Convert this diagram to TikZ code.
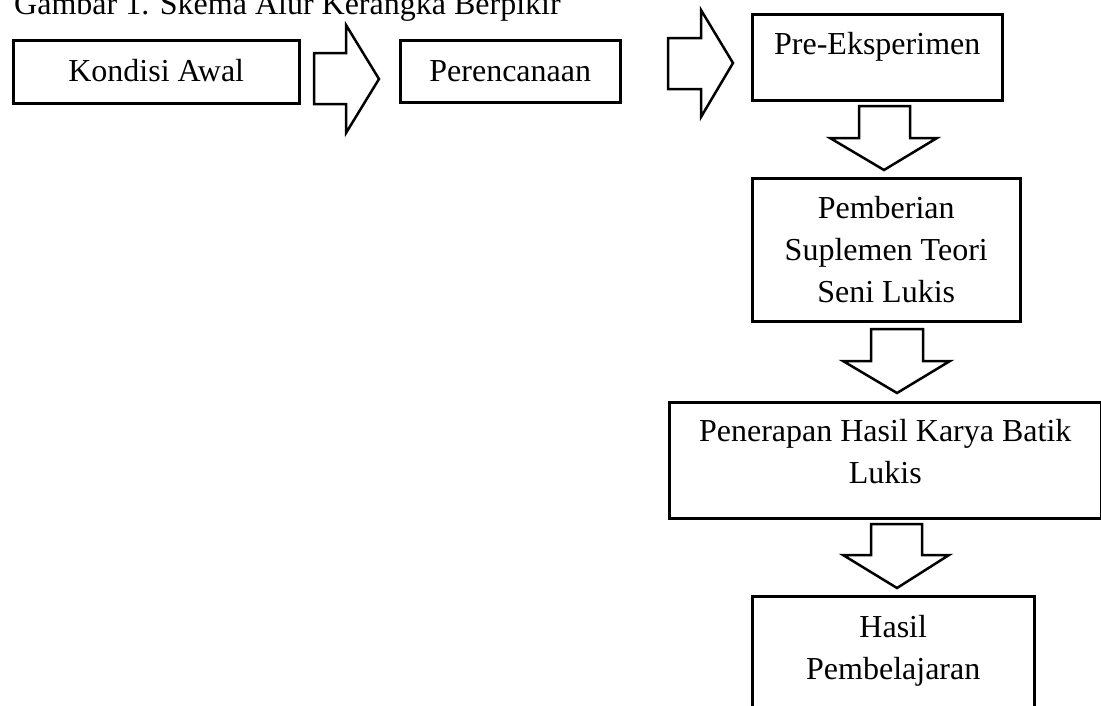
\documentclass[tikz,border=0pt]{standalone}
\usepackage{fontspec}
\setmainfont{Liberation Serif}
\begin{document}
\begin{tikzpicture}[x=1pt,y=-1pt,
  box/.style={draw, line width=2.5pt, anchor=north west, inner xsep=0pt, inner ysep=0pt,
    align=center, font=\fontsize{32}{42}\selectfont},
  blockarrow/.style={draw, line width=2.5pt, line join=miter}]
\useasboundingbox (0,0) rectangle (1101,705);
\clip (0,0) rectangle (1101,705);
\node[anchor=base west, inner sep=0pt, font=\fontsize{32}{42}\selectfont] (title) at (14,14)
  {Gambar 1. Skema Alur Kerangka Berpikir};
\node[box, minimum width=286pt, text height=41pt, text depth=22pt] (kondisi) at (12,39) {Kondisi Awal};
\node[box, minimum width=220pt, text height=41pt, text depth=21pt] (rencana) at (399,39) {Perencanaan};
\node[box, minimum width=250pt, text height=40pt, text depth=46pt] (pre) at (751,13) {Pre-Eksperimen};
\node[box, minimum width=268pt, text height=124pt, text depth=19pt] (pemberian) at (751,177)
  {Pemberian\\Suplemen Teori\\Seni Lukis};
\node[box, minimum width=432pt, text height=81pt, text depth=35pt] (penerapan) at (668,401)
  {Penerapan Hasil Karya Batik\\Lukis};
\node[box, minimum width=282pt, text height=83pt, text depth=82pt] (hasil) at (751,595)
  {Hasil\\Pembelajaran};
% block arrows
\draw[blockarrow] (314,53) -- (346,53) -- (346,25) -- (379,79) -- (346,133) -- (346,104) -- (314,104) -- cycle;
\draw[blockarrow] (668,38) -- (701,38) -- (701,10) -- (733,63) -- (701,117) -- (701,89) -- (668,89) -- cycle;
\draw[blockarrow] (859,106) -- (910,106) -- (910,138) -- (937,138) -- (884,170) -- (830,138) -- (859,138) -- cycle;
\draw[blockarrow] (871,329) -- (923,329) -- (923,361) -- (950,361) -- (897,393) -- (843,361) -- (871,361) -- cycle;
\draw[blockarrow] (871,524) -- (922,524) -- (922,555) -- (949,555) -- (897,588) -- (843,555) -- (871,555) -- cycle;
\end{tikzpicture}
\end{document}
